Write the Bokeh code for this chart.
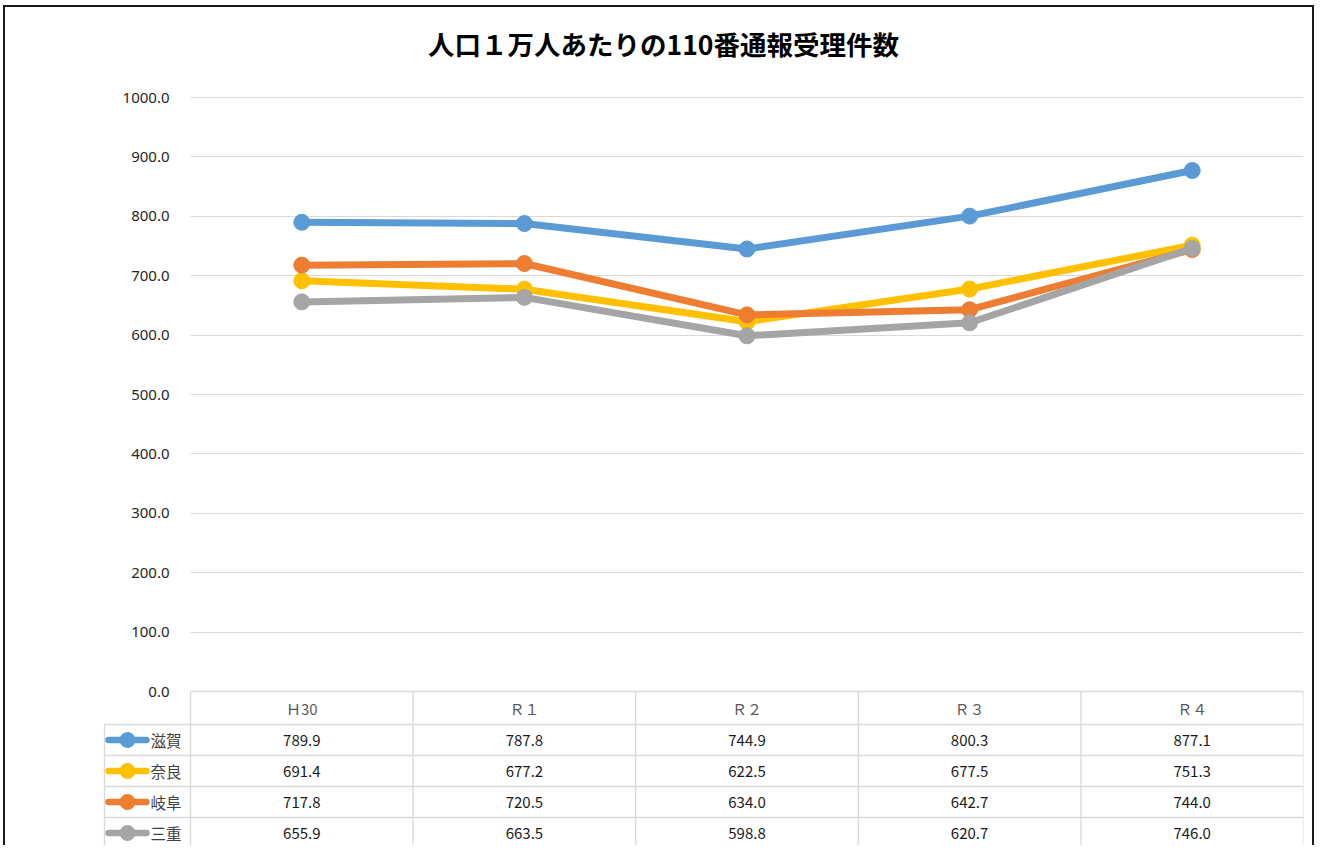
from bokeh.plotting import figure
from bokeh.models import (LinearAxis, FixedTicker, PrintfTickFormatter, Grid,
                          Label, ColumnDataSource, Range1d)
from bokeh.embed import file_html
from bokeh.resources import INLINE
from bokeh.core.properties import value

# ---------------- data ----------------
TITLE = "人口１万人あたりの110番通報受理件数"
years = ["Ｈ30", "Ｒ１", "Ｒ２", "Ｒ３", "Ｒ４"]
prefs = ["滋賀", "奈良", "岐阜", "三重"]
shiga = [789.9, 787.8, 744.9, 800.3, 877.1]
nara = [691.4, 677.2, 622.5, 677.5, 751.3]
gifu = [717.8, 720.5, 634.0, 642.7, 744.0]
mie = [655.9, 663.5, 598.8, 620.7, 746.0]
y_ticks = [0, 100, 200, 300, 400, 500, 600, 700, 800, 900, 1000]

series = [shiga, nara, gifu, mie]
colors = ["#5B9BD5", "#FFC000", "#ED7D31", "#A5A5A5"]

# ---------------- layout (pixel geometry of the picture) ----------------
W, H = 1314, 845
PLOT_L, PLOT_R = 190, 1303   # category area
Y0, Y1000 = 691, 97          # pixel rows of 0 and 1000
TABLE_L = 104
FRAME_L = 102
HEAD_H = 33
ROW_H = 31
GRID_C = "#D9D9D9"
FONT = "Noto Sans CJK JP"

n = len(years)
cw = (PLOT_R - PLOT_L) / n
ypp = 1000.0 / (Y0 - Y1000)


def xd(px):
    return (px - PLOT_L) / cw


def yd(py):
    return (Y0 - py) * ypp


p = figure(width=W, height=H,
           x_range=Range1d(xd(FRAME_L), n), y_range=Range1d(yd(H), yd(0)),
           x_axis_location=None, y_axis_location=None,
           toolbar_location=None, output_backend="svg",
           min_border_left=FRAME_L, min_border_right=W - PLOT_R,
           min_border_top=0, min_border_bottom=0,
           outline_line_color=None, background_fill_color=None,
           border_fill_color=None)
for g in p.grid:
    g.visible = False
p.styles = {"box-shadow": "inset 3px 5px 0 0 #ffffff, inset 5px 7px 0 0 #1a1a1a, "
                          "inset -2px 0 0 0 #1a1a1a"}

# y axis drawn at the left edge of the category area
yaxis = LinearAxis(fixed_location=0, bounds=(0, 1000),
                   ticker=FixedTicker(ticks=y_ticks),
                   formatter=PrintfTickFormatter(format="%.1f"),
                   axis_line_color=None, major_tick_line_color=None,
                   minor_tick_line_color=None, major_label_standoff=15,
                   major_label_text_font_size="15px",
                   major_label_text_color="#262626",
                   major_label_text_font="Noto Sans")
p.add_layout(yaxis, "left")

ygrid = Grid(dimension=1, ticker=FixedTicker(ticks=y_ticks[1:]),
             grid_line_color=GRID_C, grid_line_width=1)
use_seg_grid = False
try:
    ygrid.cross_bounds = (0, n)
except Exception:
    use_seg_grid = True
if use_seg_grid:
    p.segment(x0=[0] * 10, x1=[n] * 10, y0=y_ticks[1:], y1=y_ticks[1:],
              line_color=GRID_C, line_width=1)
else:
    p.add_layout(ygrid)

# ---------------- data table below the chart ----------------
y_head_bot = yd(Y0 + HEAD_H)
row_bounds = [Y0 + HEAD_H + ROW_H * i for i in range(len(prefs) + 1)]
row_centers = [yd(b + ROW_H / 2) for b in row_bounds[:-1]]
y_bottom = yd(H + 20)

# vertical lines
vx = list(range(n + 1))
p.segment(x0=vx, x1=vx, y0=[0] * len(vx), y1=[y_bottom] * len(vx),
          line_color=GRID_C, line_width=1.3)
p.segment(x0=[xd(TABLE_L)], x1=[xd(TABLE_L)], y0=[y_head_bot], y1=[y_bottom],
          line_color=GRID_C, line_width=1.3)
# horizontal lines
p.segment(x0=[0], x1=[n], y0=[0], y1=[0], line_color=GRID_C, line_width=1.3)
hy = [yd(b) for b in row_bounds[:-1]]
p.segment(x0=[xd(TABLE_L)] * len(hy), x1=[n] * len(hy), y0=hy, y1=hy,
          line_color=GRID_C, line_width=1.3)

xs = [i + 0.5 for i in range(n)]

# header labels
p.text(x=xs, y=[yd(Y0 + HEAD_H / 2)] * n, text=years,
       text_font=value(FONT), text_font_size="15px", text_color="#595959",
       text_align="center", text_baseline="middle")

# ---------------- lines + table rows ----------------
for k, (vals, c, name) in enumerate(zip(series, colors, prefs)):
    src = ColumnDataSource(dict(x=xs, y=vals))
    p.line("x", "y", source=src, line_width=7, line_color=c, line_join="round")
    p.scatter("x", "y", source=src, size=16, fill_color=c, line_color=c,
              line_width=1)
    yc = row_centers[k]
    # legend key in table
    p.segment(x0=[xd(108)], x1=[xd(146)], y0=[yc], y1=[yc], line_color=c,
              line_width=6.5, line_cap="round")
    p.scatter(x=[xd(127)], y=[yc], size=15, fill_color=c, line_color=c)
    p.text(x=[xd(150)], y=[yc], text=[name], text_font=value(FONT),
           text_font_size="15.5px", text_color="#404040",
           text_align="left", text_baseline="middle")
    p.text(x=xs, y=[yc] * n, text=["%.1f" % v for v in vals],
           text_font=value(FONT), text_font_size="15px", text_color="#1a1a1a",
           text_align="center", text_baseline="middle")

# title
p.add_layout(Label(x=xd(663), y=yd(43), text=TITLE, text_font=FONT,
                   text_font_size="26.5px", text_font_style="bold",
                   text_color="#000000", text_align="center",
                   text_baseline="middle"))

open("out.html", "w").write(file_html(p, INLINE))
